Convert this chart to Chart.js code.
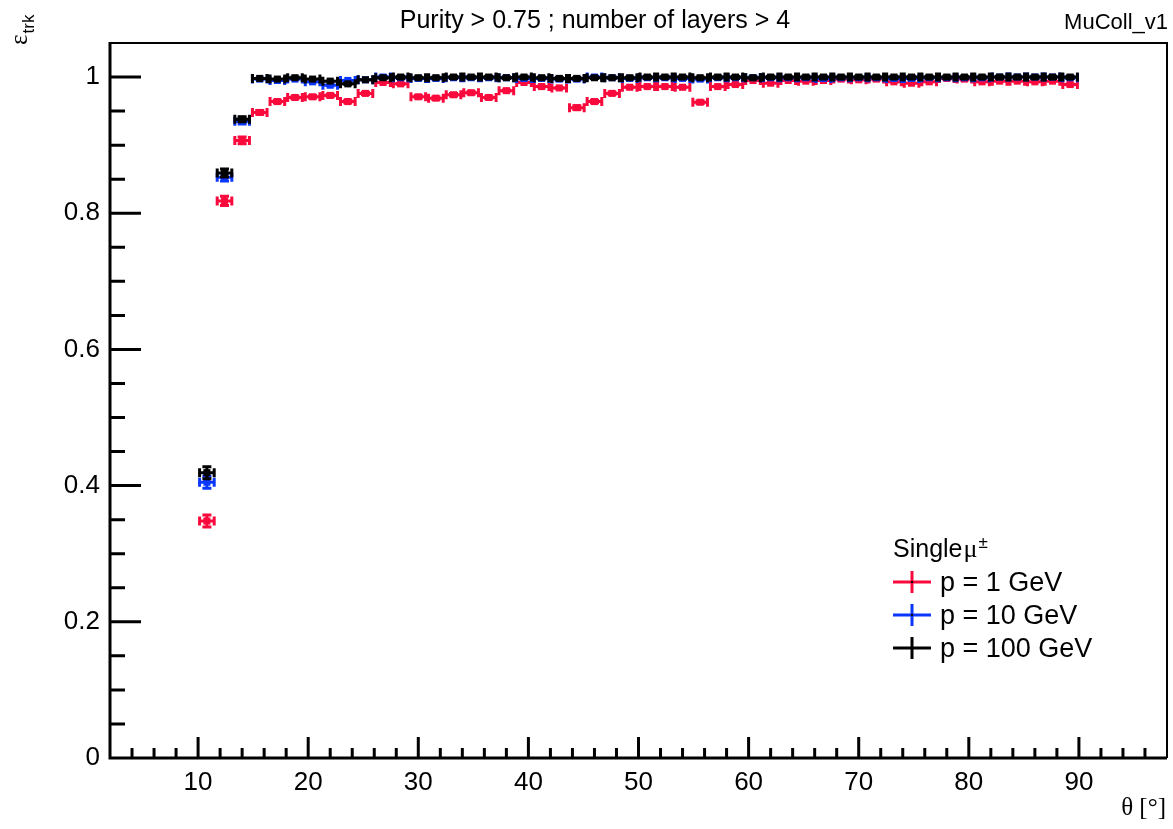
<!DOCTYPE html>
<html>
<head>
<meta charset="utf-8">
<title>Tracking efficiency vs theta</title>
<script src="https://cdn.jsdelivr.net/npm/chart.js@4.4.1/dist/chart.umd.min.js"></script>
<style>
  html, body { margin: 0; padding: 0; background: #ffffff; }
  #wrap { width: 1173px; height: 829px; position: relative; }
</style>
</head>
<body>
<div id="wrap"><canvas id="c"></canvas></div>
<script>
// Polar-angle bin centres [deg]; each bin is 1.6 deg wide
const thetaCenters = [
  10.8, 12.4, 14.0, 15.6, 17.2, 18.8, 20.4, 22.0, 23.6, 25.2,
  26.8, 28.4, 30.0, 31.6, 33.2, 34.8, 36.4, 38.0, 39.6, 41.2,
  42.8, 44.4, 46.0, 47.6, 49.2, 50.8, 52.4, 54.0, 55.6, 57.2,
  58.8, 60.4, 62.0, 63.6, 65.2, 66.8, 68.4, 70.0, 71.6, 73.2,
  74.8, 76.4, 78.0, 79.6, 81.2, 82.8, 84.4, 86.0, 87.6, 89.2
];
const binHalfWidth = 0.8;

// p = 1 GeV
const effP1 = [
  0.348, 0.818, 0.907, 0.948, 0.964, 0.970, 0.971, 0.973, 0.964, 0.976,
  0.992, 0.990, 0.971, 0.969, 0.974, 0.977, 0.970, 0.980, 0.992, 0.986,
  0.984, 0.955, 0.964, 0.976, 0.985, 0.986, 0.986, 0.985, 0.963, 0.986,
  0.989, 0.995, 0.991, 0.995, 0.994, 0.995, 0.997, 0.996, 0.997, 0.993,
  0.991, 0.993, 0.998, 0.997, 0.993, 0.994, 0.994, 0.993, 0.994, 0.989
];
const errP1 = [
  0.011, 0.009, 0.007, 0.005, 0.004, 0.004, 0.004, 0.004, 0.004, 0.004,
  0.002, 0.003, 0.004, 0.004, 0.004, 0.004, 0.004, 0.003, 0.002, 0.003,
  0.003, 0.005, 0.004, 0.004, 0.003, 0.003, 0.003, 0.003, 0.004, 0.003,
  0.003, 0.002, 0.002, 0.002, 0.002, 0.002, 0.001, 0.002, 0.001, 0.002,
  0.002, 0.002, 0.001, 0.001, 0.002, 0.002, 0.002, 0.002, 0.002, 0.003
];

// p = 10 GeV
const effP10 = [
  0.405, 0.853, 0.935, 0.997, 0.995, 0.997, 0.993, 0.988, 0.995, 0.996,
  1.000, 0.999, 0.998, 0.998, 0.999, 0.999, 0.999, 0.999, 0.998, 0.998,
  0.997, 0.997, 1.000, 0.999, 0.998, 0.999, 0.999, 0.998, 0.997, 0.999,
  0.999, 0.999, 0.999, 0.999, 0.999, 0.998, 0.999, 0.999, 0.999, 0.998,
  0.998, 0.999, 0.999, 0.999, 0.999, 1.000, 1.000, 1.000, 1.000, 0.999
];
const errP10 = [
  0.011, 0.008, 0.006, 0.002, 0.002, 0.002, 0.002, 0.003, 0.002, 0.002,
  0.001, 0.001, 0.001, 0.001, 0.001, 0.001, 0.001, 0.001, 0.001, 0.001,
  0.001, 0.001, 0.001, 0.001, 0.001, 0.001, 0.001, 0.001, 0.001, 0.001,
  0.001, 0.001, 0.001, 0.001, 0.001, 0.001, 0.001, 0.001, 0.001, 0.001,
  0.001, 0.001, 0.001, 0.001, 0.001, 0.001, 0.001, 0.001, 0.001, 0.001
];

// p = 100 GeV
const effP100 = [
  0.419, 0.859, 0.938, 0.998, 0.997, 0.999, 0.997, 0.994, 0.990, 0.996,
  0.999, 1.000, 0.999, 0.999, 1.000, 1.000, 1.000, 0.999, 1.000, 0.999,
  0.998, 0.998, 0.999, 0.999, 0.999, 1.000, 1.000, 1.000, 0.999, 1.000,
  1.000, 0.999, 1.000, 1.000, 1.000, 1.000, 1.000, 1.000, 1.000, 1.000,
  1.000, 1.000, 1.000, 1.000, 1.000, 1.000, 1.000, 1.000, 1.000, 1.000
];
const errP100 = [
  0.011, 0.008, 0.006, 0.002, 0.002, 0.001, 0.002, 0.002, 0.003, 0.002,
  0.001, 0.001, 0.001, 0.001, 0.001, 0.001, 0.001, 0.001, 0.001, 0.001,
  0.001, 0.001, 0.001, 0.001, 0.001, 0.001, 0.001, 0.001, 0.001, 0.001,
  0.001, 0.001, 0.001, 0.001, 0.001, 0.001, 0.001, 0.001, 0.001, 0.001,
  0.001, 0.001, 0.001, 0.001, 0.001, 0.001, 0.001, 0.001, 0.001, 0.001
];

const seriesLabels = ['p = 1 GeV', 'p = 10 GeV', 'p = 100 GeV'];
const seriesColors = ['#fa0a3c', '#0a37ff', '#000000'];

const xTickValues = [10, 20, 30, 40, 50, 60, 70, 80, 90];
const xTickLabels = ['10', '20', '30', '40', '50', '60', '70', '80', '90'];
const yTickValues = [0, 0.2, 0.4, 0.6, 0.8, 1];
const yTickLabels = ['0', '0.2', '0.4', '0.6', '0.8', '1'];

const titleText = 'Purity > 0.75 ; number of layers > 4';
const tagText = 'MuColl_v1';

const SANS = '"Liberation Sans", Arial, Helvetica, sans-serif';
const SERIF = '"Liberation Serif", "DejaVu Serif", serif';

function makePoints(eff, err) {
  return thetaCenters.map((x, i) => ({
    x: x,
    y: eff[i],
    ex: binHalfWidth,
    eyl: err[i],
    eyh: Math.min(err[i], 1 - eff[i])
  }));
}

// Error bars with end caps (ROOT "E1" style), drawn under each dataset's markers
const errorBars = {
  id: 'errorBars',
  beforeDatasetDraw(chart, args) {
    const ds = chart.data.datasets[args.index];
    const xs = chart.scales.x, ys = chart.scales.y;
    const ctx = chart.ctx;
    const cap = 4.5;
    ctx.save();
    ctx.strokeStyle = ds.borderColor;
    ctx.lineWidth = 3;
    ctx.lineCap = 'butt';
    ctx.beginPath();
    ds.data.forEach(p => {
      const xc = xs.getPixelForValue(p.x);
      const x0 = xs.getPixelForValue(p.x - p.ex);
      const x1 = xs.getPixelForValue(p.x + p.ex);
      const yc = ys.getPixelForValue(p.y);
      const yl = ys.getPixelForValue(p.y - p.eyl);
      const yh = ys.getPixelForValue(p.y + p.eyh);
      ctx.moveTo(x0, yc); ctx.lineTo(x1, yc);
      ctx.moveTo(x0 + 1.5, yc - cap); ctx.lineTo(x0 + 1.5, yc + cap);
      ctx.moveTo(x1 - 1.5, yc - cap); ctx.lineTo(x1 - 1.5, yc + cap);
      ctx.moveTo(xc, yl); ctx.lineTo(xc, yh);
      ctx.moveTo(xc - cap, yl - 1.5); ctx.lineTo(xc + cap, yl - 1.5);
      ctx.moveTo(xc - cap, yh + 1.5); ctx.lineTo(xc + cap, yh + 1.5);
    });
    ctx.stroke();
    ctx.restore();
  }
};

// Frame, inward tick marks, titles and legend box
const frameAndText = {
  id: 'frameAndText',
  afterDraw(chart) {
    const ctx = chart.ctx;
    const a = chart.chartArea;
    const xs = chart.scales.x, ys = chart.scales.y;
    ctx.save();
    ctx.strokeStyle = '#000';
    ctx.lineCap = 'butt';

    // top and right frame
    ctx.lineWidth = 2;
    ctx.beginPath();
    ctx.moveTo(a.left, a.top); ctx.lineTo(a.right, a.top); ctx.lineTo(a.right, a.bottom);
    ctx.stroke();

    // axes lines
    ctx.lineWidth = 3;
    ctx.beginPath();
    ctx.moveTo(a.left, a.top - 1); ctx.lineTo(a.left, a.bottom);
    ctx.lineTo(a.right, a.bottom);
    ctx.stroke();

    // x ticks: major every 10, minor every 2
    ctx.beginPath();
    for (let v = 4; v < 98; v += 2) {
      const px = xs.getPixelForValue(v);
      const len = (v % 10 === 0) ? 21 : 10;
      ctx.moveTo(px, a.bottom); ctx.lineTo(px, a.bottom - len);
    }
    // y ticks: major every 0.2, minor every 0.05
    for (let k = 1; k <= 20; k++) {
      const v = k * 0.05;
      const py = ys.getPixelForValue(v);
      const len = (k % 4 === 0) ? 31 : 15;
      ctx.moveTo(a.left, py); ctx.lineTo(a.left + len, py);
    }
    ctx.stroke();

    ctx.fillStyle = '#000';
    // title and tag
    ctx.textBaseline = 'alphabetic';
    ctx.font = '25px ' + SANS;
    ctx.textAlign = 'center';
    ctx.fillText(titleText, 595, 28);
    ctx.font = '22px ' + SANS;
    ctx.textAlign = 'right';
    ctx.fillText(tagText, 1168, 29);

    // x axis title
    ctx.font = '25px ' + SERIF;
    ctx.textAlign = 'right';
    ctx.fillText('\u03b8 [\u00b0]', 1166, 815);

    // y axis title (rotated)
    ctx.save();
    ctx.translate(27, 45);
    ctx.rotate(-Math.PI / 2);
    ctx.textAlign = 'left';
    ctx.font = '25px ' + SERIF;
    ctx.fillText('\u03b5', 0, 0);
    const ew = ctx.measureText('\u03b5').width;
    ctx.font = '17px ' + SANS;
    ctx.fillText('trk', ew + 1, 7);
    ctx.restore();

    // legend
    const lx = 893;
    ctx.textAlign = 'left';
    ctx.font = '25px ' + SANS;
    ctx.fillText('Single', lx, 557);
    const sw = ctx.measureText('Single').width;
    ctx.font = '26px ' + SERIF;
    ctx.fillText('\u03bc', lx + sw + 1, 557);
    const mw = ctx.measureText('\u03bc').width;
    ctx.font = '17px ' + SANS;
    ctx.fillText('\u00b1', lx + sw + mw + 2, 548);

    const rows = [582, 615, 648];
    seriesLabels.forEach((lab, i) => {
      const cy = rows[i];
      ctx.strokeStyle = seriesColors[i];
      ctx.lineWidth = 3;
      ctx.beginPath();
      ctx.moveTo(lx, cy); ctx.lineTo(lx + 38, cy);
      ctx.moveTo(lx + 19, cy - 11); ctx.lineTo(lx + 19, cy + 11);
      ctx.stroke();
      ctx.fillStyle = '#000';
      ctx.fillRect(lx + 18, cy - 1, 2, 2);
      ctx.font = '27px ' + SANS;
      ctx.fillText(lab, lx + 47, cy + 9);
    });
    ctx.restore();
  }
};

const datasets = [
  { label: seriesLabels[0], data: makePoints(effP1, errP1), color: seriesColors[0], order: 3 },
  { label: seriesLabels[1], data: makePoints(effP10, errP10), color: seriesColors[1], order: 2 },
  { label: seriesLabels[2], data: makePoints(effP100, errP100), color: seriesColors[2], order: 1 }
].map(d => ({
  label: d.label,
  data: d.data,
  order: d.order,
  showLine: false,
  borderColor: d.color,
  backgroundColor: d.color,
  pointStyle: 'rect',
  pointRadius: 5,
  pointBorderWidth: 0,
  pointHoverRadius: 5
}));

Chart.defaults.font.family = SANS;
Chart.defaults.color = '#000';

new Chart(document.getElementById('c'), {
  type: 'scatter',
  data: { datasets },
  options: {
    responsive: true,
    maintainAspectRatio: false,
    animation: false,
    events: [],
    layout: { padding: { left: 0, right: 6, top: 43, bottom: 0 } },
    plugins: {
      legend: { display: false },
      title: { display: false },
      tooltip: { enabled: false }
    },
    scales: {
      x: {
        type: 'linear',
        min: 2,
        max: 98,
        grid: { display: false, drawTicks: false },
        border: { display: false },
        afterBuildTicks: s => { s.ticks = xTickValues.map(v => ({ value: v })); },
        afterFit: s => { s.height = 71; },
        ticks: {
          autoSkip: false,
          maxRotation: 0,
          padding: 9,
          font: { size: 26 },
          color: '#000',
          callback: v => xTickLabels[xTickValues.indexOf(v)]
        }
      },
      y: {
        type: 'linear',
        min: 0,
        max: 1.05,
        grid: { display: false, drawTicks: false },
        border: { display: false },
        afterBuildTicks: s => { s.ticks = yTickValues.map(v => ({ value: v })); },
        afterFit: s => { s.width = 110; },
        ticks: {
          autoSkip: false,
          padding: 10,
          font: { size: 26 },
          color: '#000',
          callback: v => yTickLabels[yTickValues.indexOf(v)]
        }
      }
    }
  },
  plugins: [errorBars, frameAndText]
});
</script>
</body>
</html>
